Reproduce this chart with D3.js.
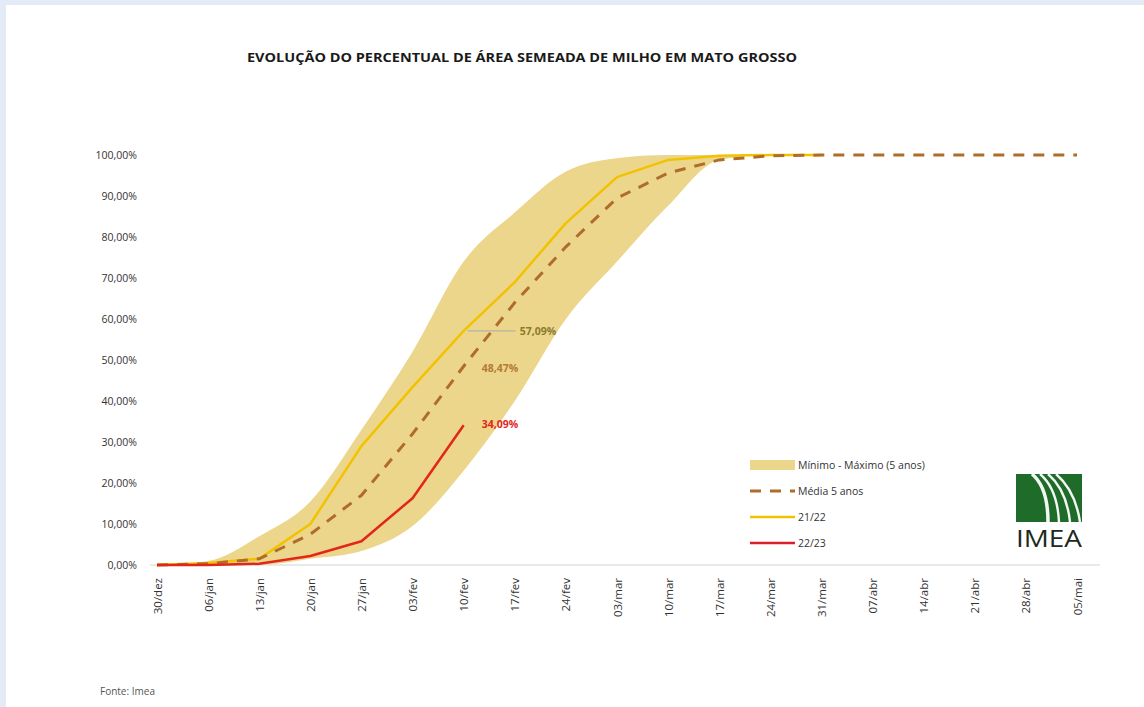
<!DOCTYPE html>
<html>
<head>
<meta charset="utf-8">
<script src="https://cdn.jsdelivr.net/npm/d3@7"></script>
<style>
  html, body { margin: 0; padding: 0; background: #e2ebf6; }
  svg { display: block; }
  text { font-family: "Open Sans", "Liberation Sans", sans-serif; }
</style>
</head>
<body>
<svg id="chart" width="1144" height="707"></svg>
<script>
// Semanas de plantio
const dates = ["30/dez","06/jan","13/jan","20/jan","27/jan","03/fev","10/fev","17/fev","24/fev",
               "03/mar","10/mar","17/mar","24/mar","31/mar","07/abr","14/abr","21/abr","28/abr","05/mai"];
// Faixa mínimo - máximo (5 anos), em %
const bandMin = [0, 0, 0, 1.5, 3.4, 9.5, 23, 40, 60, 74, 87.6, 98.8, 100, 100];
const bandMax = [0, 1, 7, 15.5, 33, 52, 74, 86, 96, 99.2, 100, 100, 100, 100];
// Média 5 anos
const media = [0, 0.3, 1.5, 7.5, 17, 32, 48.47, 64, 77.6, 89.5, 95.6, 98.8, 99.8, 100, 100, 100, 100, 100, 100];
// Safra 21/22
const safra2122 = [0, 0.5, 1.5, 10, 29, 43.4, 57.09, 69, 83.4, 94.6, 98.8, 99.8, 100, 100];
// Safra 22/23
const safra2223 = [0, 0, 0.3, 2.2, 5.8, 16.3, 34.09];
const yTicks = [0, 10, 20, 30, 40, 50, 60, 70, 80, 90, 100];

const svg = d3.select("#chart");
const fmt = v => d3.format(".2f")(v).replace(".", ",") + "%";

// White page area
svg.append("rect").attr("x", 6).attr("y", 5).attr("width", 1138).attr("height", 702).attr("fill", "#ffffff");

const x = d3.scalePoint().domain(dates).range([157, 1077]);
const y = d3.scaleLinear().domain([0, 100]).range([565, 155]);

// Title
svg.append("text")
  .attr("x", 522).attr("y", 62)
  .attr("text-anchor", "middle")
  .attr("font-size", 11.5).attr("font-weight", "bold")
  .attr("fill", "#1a1a1a")
  .attr("textLength", 550).attr("lengthAdjust", "spacingAndGlyphs")
  .text("EVOLUÇÃO DO PERCENTUAL DE ÁREA SEMEADA DE MILHO EM MATO GROSSO");

// Y axis (labels only)
const yAxis = d3.axisLeft(y).tickValues(yTicks).tickSize(0).tickPadding(0).tickFormat(fmt);
const gy = svg.append("g").attr("transform", "translate(137,0)").call(yAxis);
gy.select(".domain").remove();
gy.selectAll("text").attr("font-size", 10.5).attr("fill", "#333")
  .attr("font-family", "'Open Sans', sans-serif").attr("dy", "0.35em");

// X axis baseline
svg.append("line").attr("x1", 150).attr("x2", 1100).attr("y1", y(0)).attr("y2", y(0))
  .attr("stroke", "#d4d4d4").attr("stroke-width", 1);

// X axis labels (rotated)
const xAxis = d3.axisBottom(x).tickSize(0).tickPadding(0);
const gx = svg.append("g").attr("transform", `translate(0,${y(0)})`).call(xAxis);
gx.select(".domain").remove();
gx.selectAll("text")
  .attr("font-size", 11.5).attr("fill", "#333").attr("font-family", "'Open Sans', sans-serif")
  .attr("text-anchor", "end")
  .attr("transform", "rotate(-90)")
  .attr("x", -13).attr("y", 0).attr("dy", "0.35em");

// Min-max band (smoothed edges)
const bandData = bandMin.map((v, i) => ({ d: dates[i], lo: v, hi: bandMax[i] }));
svg.append("path").datum(bandData)
  .attr("fill", "#ecd68c")
  .attr("d", d3.area().x(d => x(d.d)).y0(d => y(d.lo)).y1(d => y(d.hi)).curve(d3.curveMonotoneX));

const line = d3.line().x(d => x(d.d)).y(d => y(d.v));
const series = arr => arr.map((v, i) => ({ d: dates[i], v }));

// 21/22
svg.append("path").datum(series(safra2122))
  .attr("fill", "none").attr("stroke", "#f2c200").attr("stroke-width", 2.5)
  .attr("stroke-linejoin", "round").attr("d", line);

// Média 5 anos
svg.append("path").datum(series(media))
  .attr("fill", "none").attr("stroke", "#b06d2a").attr("stroke-width", 3)
  .attr("stroke-dasharray", "11,9").attr("d", line);

// 22/23
svg.append("path").datum(series(safra2223))
  .attr("fill", "none").attr("stroke", "#e3261a").attr("stroke-width", 2.5)
  .attr("stroke-linejoin", "round").attr("d", line);

// Value labels at 10/fev
const lastIdx = safra2223.length - 1;
const xl = x(dates[lastIdx]);
svg.append("line")
  .attr("x1", xl + 4).attr("x2", xl + 52)
  .attr("y1", y(safra2122[lastIdx])).attr("y2", y(safra2122[lastIdx]))
  .attr("stroke", "#a8a8a8").attr("stroke-width", 1);
svg.append("text").attr("x", xl + 56).attr("y", y(safra2122[lastIdx])).attr("dy", "0.35em")
  .attr("font-size", 10.5).attr("font-weight", "bold").attr("fill", "#8a7b2c")
  .text(fmt(safra2122[lastIdx]));
svg.append("text").attr("x", xl + 18).attr("y", y(media[lastIdx]) + 2).attr("dy", "0.35em")
  .attr("font-size", 10.5).attr("font-weight", "bold").attr("fill", "#b57a33")
  .text(fmt(media[lastIdx]));
svg.append("text").attr("x", xl + 18).attr("y", y(safra2223[lastIdx]) - 1).attr("dy", "0.35em")
  .attr("font-size", 10.5).attr("font-weight", "bold").attr("fill", "#e3261a")
  .text(fmt(safra2223[lastIdx]));

// Legend
const legend = svg.append("g").attr("transform", "translate(750,465)");
const items = [
  { label: "Mínimo - Máximo (5 anos)", type: "band" },
  { label: "Média 5 anos", type: "dash" },
  { label: "21/22", type: "y" },
  { label: "22/23", type: "r" }
];
items.forEach((it, i) => {
  const g = legend.append("g").attr("transform", `translate(0,${i * 26})`);
  if (it.type === "band") {
    g.append("rect").attr("x", 0).attr("y", -5).attr("width", 45).attr("height", 10).attr("fill", "#ecd68c");
  } else if (it.type === "dash") {
    g.append("line").attr("x1", 0).attr("x2", 45).attr("y1", 0).attr("y2", 0)
      .attr("stroke", "#b06d2a").attr("stroke-width", 3).attr("stroke-dasharray", "11,9");
  } else {
    g.append("line").attr("x1", 0).attr("x2", 45).attr("y1", 0).attr("y2", 0)
      .attr("stroke", it.type === "y" ? "#f2c200" : "#d8202a").attr("stroke-width", 2.5);
  }
  g.append("text").attr("x", 48).attr("y", 0).attr("dy", "0.35em")
    .attr("font-size", 10.5).attr("fill", "#333").text(it.label);
});

// IMEA logo
const logo = svg.append("g").attr("transform", "translate(1016,474)");
logo.append("rect").attr("width", 66).attr("height", 48).attr("fill", "#1f6b2a");
const stripes = [
  { d: "M16,0 C28,10 32,28 32,48", w: 3.5 },
  { d: "M24,0 C37,11 42,28 43,48", w: 2.4 },
  { d: "M32,0 C46,12 52,29 54,48", w: 2.4 },
  { d: "M40,0 C54,12 61,28 64,48", w: 2.4 }
];
stripes.forEach(s => logo.append("path").attr("d", s.d).attr("fill", "none")
  .attr("stroke", "#f2f7f2").attr("stroke-width", s.w));
logo.append("text").attr("x", 33).attr("y", 73).attr("text-anchor", "middle")
  .attr("font-family", "'DejaVu Sans Condensed', 'DejaVu Sans', sans-serif")
  .attr("font-size", 24).attr("fill", "#1b2a1d")
  .attr("textLength", 66).attr("lengthAdjust", "spacingAndGlyphs")
  .text("IMEA");

// Source
svg.append("text").attr("x", 100).attr("y", 695)
  .attr("font-size", 10).attr("fill", "#555").text("Fonte: Imea");
</script>
</body>
</html>
